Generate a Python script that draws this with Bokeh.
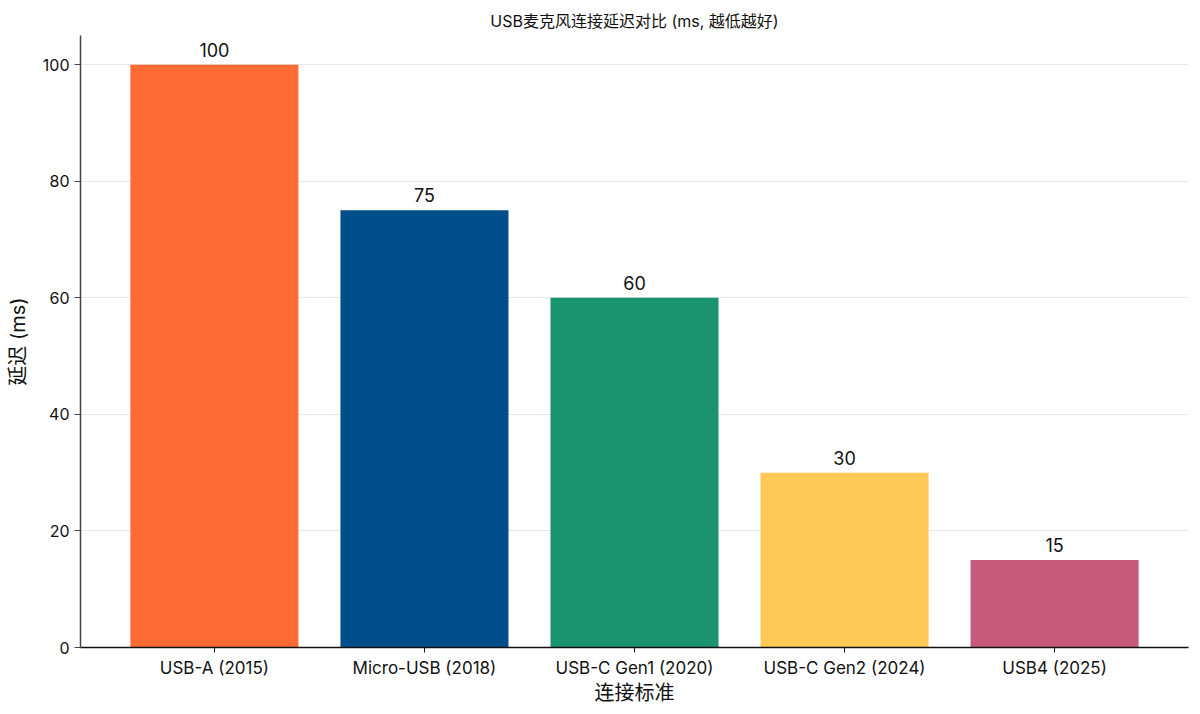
from bokeh.plotting import figure
from bokeh.models import ColumnDataSource, Range1d, FactorRange, LabelSet, FixedTicker, Title
from bokeh.core.properties import value
from bokeh.embed import file_html
from bokeh.resources import INLINE

categories = ["USB-A (2015)", "Micro-USB (2018)", "USB-C Gen1 (2020)", "USB-C Gen2 (2024)", "USB4 (2025)"]
latency_ms = [100, 75, 60, 30, 15]
colors = ["#FE6B35", "#004E89", "#1A936F", "#FFC857", "#C55A7B"]
y_ticks = [0, 20, 40, 60, 80, 100]

FONT = "Inter, 'Noto Sans CJK SC', sans-serif"

src = ColumnDataSource(dict(cat=categories, val=latency_ms, color=colors,
                            lbl=[str(v) for v in latency_ms]))

p = figure(width=1192, height=707, x_range=FactorRange(*categories, range_padding=0.055),
           y_range=Range1d(0, 105), output_backend="svg", toolbar_location=None,
           min_border_left=80, min_border_right=4, min_border_top=35, min_border_bottom=53)
p.title = Title(text="USB麦克风连接延迟对比 (ms, 越低越好)", align="center",
                text_font=FONT, text_font_size="16px", text_font_style="normal",
                text_color="#111111")

p.vbar(x="cat", top="val", width=0.8, color="color", source=src, line_color=None)

labels = LabelSet(x="cat", y="val", text="lbl", source=src, text_align="center",
                  text_baseline="bottom", y_offset=8, text_font=value(FONT),
                  text_font_size="18px", text_color="#111111")
p.add_layout(labels)

p.outline_line_color = None
p.xgrid.grid_line_color = None
p.ygrid.grid_line_color = "#e6e6e6"
p.ygrid.grid_line_width = 1

p.yaxis.ticker = FixedTicker(ticks=y_ticks)
p.yaxis.minor_tick_line_color = None
p.yaxis.axis_line_color = "#444444"
p.yaxis.axis_line_width = 1.5
p.yaxis.major_tick_line_color = "#444444"
p.yaxis.major_tick_in = 0
p.yaxis.major_tick_out = 6
p.yaxis.major_label_text_font = FONT
p.yaxis.major_label_text_font_size = "16px"
p.yaxis.major_label_text_color = "#111111"
p.yaxis.axis_label = "延迟 (ms)"
p.yaxis.axis_label_text_font = FONT
p.yaxis.axis_label_text_font_size = "20px"
p.yaxis.axis_label_text_font_style = "normal"
p.yaxis.axis_label_text_color = "#111111"
p.yaxis.axis_label_standoff = 10

p.xaxis.axis_line_color = "#111111"
p.xaxis.axis_line_width = 1.5
p.xaxis.major_tick_line_color = "#111111"
p.xaxis.major_tick_in = 0
p.xaxis.major_tick_out = 5
p.xaxis.major_label_text_font = FONT
p.xaxis.major_label_text_font_size = "17px"
p.xaxis.major_label_text_color = "#111111"
p.xaxis.axis_label = "连接标准"
p.xaxis.axis_label_text_font = FONT
p.xaxis.axis_label_text_font_size = "20px"
p.xaxis.axis_label_text_font_style = "normal"
p.xaxis.axis_label_text_color = "#111111"
p.xaxis.axis_label_standoff = 0

open("out.html", "w").write(file_html(p, INLINE))
